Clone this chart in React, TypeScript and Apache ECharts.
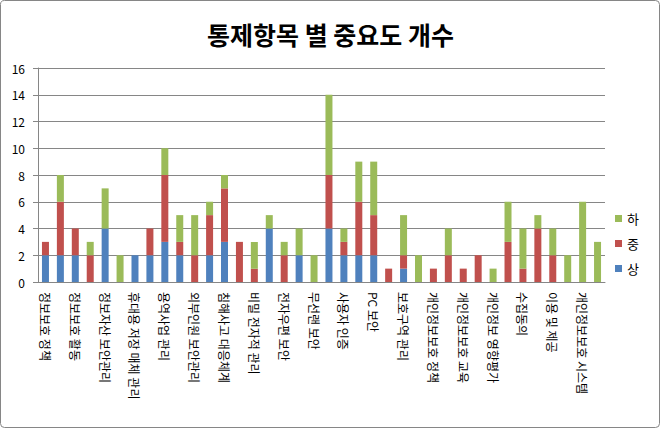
import React, { useEffect, useRef } from "react";
import * as echarts from "echarts";

const categories = [
  "정보보호 정책", "", "정보보호 활동", "", "정보자산 보안관리", "",
  "휴대용 저장 매체 관리", "", "용역사업 관리", "", "외부인원 보안관리", "",
  "침해사고 대응체계", "", "비밀 전자적 관리", "", "전자우편 보안", "",
  "무선랜 보안", "", "사용자 인증", "", "PC 보안", "",
  "보호구역 관리", "", "개인정보보호 정책", "", "개인정보보호 교육", "",
  "개인정보 영향평가", "", "수집동의", "", "이용 및 제공", "",
  "개인정보보호 시스템", "",
];

const high = [2, 2, 2, 0, 4, 0, 2, 2, 3, 2, 0, 2, 3, 0, 0, 4, 0, 2, 0, 4, 2, 2, 2, 0, 1, 0, 0, 0, 0, 0, 0, 0, 0, 0, 0, 0, 0, 0];
const mid = [1, 4, 2, 2, 0, 0, 0, 2, 5, 1, 2, 3, 4, 3, 1, 0, 2, 0, 0, 4, 1, 4, 3, 1, 1, 0, 1, 2, 1, 2, 0, 3, 1, 4, 2, 0, 0, 0];
const low = [0, 2, 0, 1, 3, 2, 0, 0, 2, 2, 3, 1, 1, 0, 2, 1, 1, 2, 2, 6, 1, 3, 4, 0, 3, 2, 0, 2, 0, 0, 1, 3, 3, 1, 2, 2, 6, 3];

const yTicks = { min: 0, max: 16, interval: 2 };

export default function App() {
  const ref = useRef<HTMLDivElement>(null);
  useEffect(() => {
    if (!ref.current) return;
    const chart = echarts.init(ref.current, null, { renderer: "svg" });
    const font = "'Noto Sans CJK KR', 'Noto Sans', sans-serif";
    const bar = (name: string, data: number[], color: string) => ({
      name,
      type: "bar",
      stack: "total",
      data,
      barWidth: 7,
      itemStyle: { color },
    });
    chart.setOption({
      animation: false,
      backgroundColor: "#ffffff",
      textStyle: { fontFamily: font },
      title: {
        text: "통제항목 별 중요도 개수",
        left: "center",
        top: 16,
        textStyle: { fontFamily: font, fontSize: 25, fontWeight: "bold", color: "#000" },
      },
      legend: {
        data: ["하", "중", "상"],
        orient: "vertical",
        left: 610,
        top: 207,
        itemWidth: 7,
        itemHeight: 7,
        itemGap: 12,
        icon: "rect",
        textStyle: { fontFamily: font, fontSize: 13, color: "#000" },
      },
      grid: { left: 38, right: 56, top: 68, bottom: 147, containLabel: false },
      xAxis: {
        type: "category",
        data: categories,
        axisLine: { lineStyle: { color: "#868686" } },
        axisTick: { interval: 0, alignWithLabel: false, length: 5, lineStyle: { color: "#868686" } },
        axisLabel: {
          interval: 0,
          rotate: -90,
          fontSize: 12,
          color: "#000",
          margin: 10,
          padding: [0, 0, 6, 0],
          fontFamily: font,
        },
      },
      yAxis: {
        type: "value",
        min: yTicks.min,
        max: yTicks.max,
        interval: yTicks.interval,
        axisLine: { show: true, lineStyle: { color: "#868686" } },
        axisTick: { show: true, length: 5, lineStyle: { color: "#868686" } },
        axisLabel: { fontSize: 12, color: "#000", margin: 13, fontFamily: font },
        splitLine: { lineStyle: { color: "#868686" } },
      },
      series: [
        bar("상", high, "#4F81BD"),
        bar("중", mid, "#C0504D"),
        bar("하", low, "#9BBB59"),
      ],
      graphic: [
        {
          type: "rect",
          shape: { x: 0.5, y: 0.5, width: 659, height: 427, r: 4 },
          style: { fill: "none", stroke: "#868686", lineWidth: 1 },
          silent: true,
        },
      ],
    });
    return () => chart.dispose();
  }, []);
  return (
    <div
      ref={ref}
      style={{ position: "absolute", left: 0, top: 0, width: 661, height: 429 }}
    />
  );
}
